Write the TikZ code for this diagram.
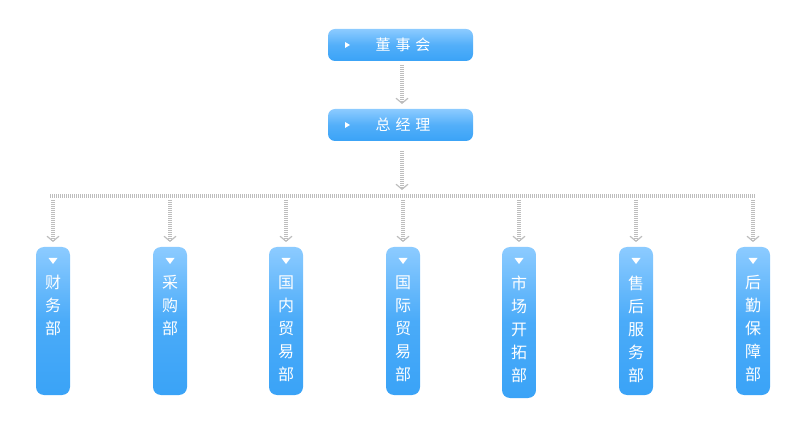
\documentclass[tikz,border=0pt]{standalone}
\usepackage{fontspec}
\newfontfamily\cjk{Noto Sans CJK SC}
\usetikzlibrary{arrows.meta}
\definecolor{btop}{HTML}{8CCBFF}
\definecolor{bbot}{HTML}{3AA3F7}
\definecolor{dotc}{HTML}{BDBDBD}
\tikzset{
  hbox/.style={rounded corners=7pt, top color=btop, bottom color=bbot, middle color=bbot!70!btop, minimum width=145pt, minimum height=32pt, inner sep=0pt, draw=none},
  vbox/.style={rounded corners=8pt, draw=none, inner sep=0pt, minimum width=34pt},
  link/.style={dotc, line width=3.5pt, dash pattern=on 1pt off 1pt, -{Straight Barb[length=5pt,width=12pt,line width=1.2pt]}},
  hline/.style={dotc, line width=3.5pt, dash pattern=on 1pt off 1pt},
  lbl/.style={text=white, font=\cjk\fontsize{16}{16}\selectfont},
}
\begin{document}
\begin{tikzpicture}[x=1pt,y=-1pt]
\useasboundingbox (0,0) rectangle (800,443);
\node[hbox] (dsh) at (400.5,45) {};
\node[hbox] (zjl) at (400.5,125) {};
\node[lbl, font=\cjk\fontsize{15}{15}\selectfont] at (403,45) {董\,\,事\,\,会};
\node[lbl, font=\cjk\fontsize{15}{15}\selectfont] at (403,125) {总\,\,经\,\,理};
\fill[white] (345,42) -- (350,45) -- (345,48) -- cycle;
\fill[white] (345,122) -- (350,125) -- (345,128) -- cycle;
\coordinate (a1) at (402,65);
\coordinate (a2) at (402,104);
\draw[link] (a1) -- (a2);
\coordinate (b1) at (402,151);
\coordinate (b2) at (402,190);
\draw[link] (b1) -- (b2);
\coordinate (hl) at (50,196);
\coordinate (hr) at (755,196);
\draw[hline] (hl) -- (hr);
\foreach \x/\n/\t/\h in {53/d1/{财\\务\\部}/148, 170/d2/{采\\购\\部}/148, 286/d3/{国\\内\\贸\\易\\部}/148, 403/d4/{国\\际\\贸\\易\\部}/148, 519/d5/{市\\场\\开\\拓\\部}/151, 636/d6/{售\\后\\服\\务\\部}/148, 753/d7/{后\\勤\\保\\障\\部}/148}{
  \shade[vbox, rounded corners=8pt, top color=btop, bottom color=bbot, middle color=bbot!80!btop] (\x-17,247) rectangle (\x+17,247+\h);
  \coordinate (\n) at (\x,247);
  \coordinate (\n s) at (\x,200);
  \draw[link] (\n s) -- ([yshift=5pt]\n);
  \fill[white] (\x-4.5,258) -- (\x+4.5,258) -- (\x,264) -- cycle;
  \node[lbl, align=center, anchor=north, font=\cjk\fontsize{16}{23}\selectfont] at (\x,272) {\t};
}
\end{tikzpicture}
\end{document}
